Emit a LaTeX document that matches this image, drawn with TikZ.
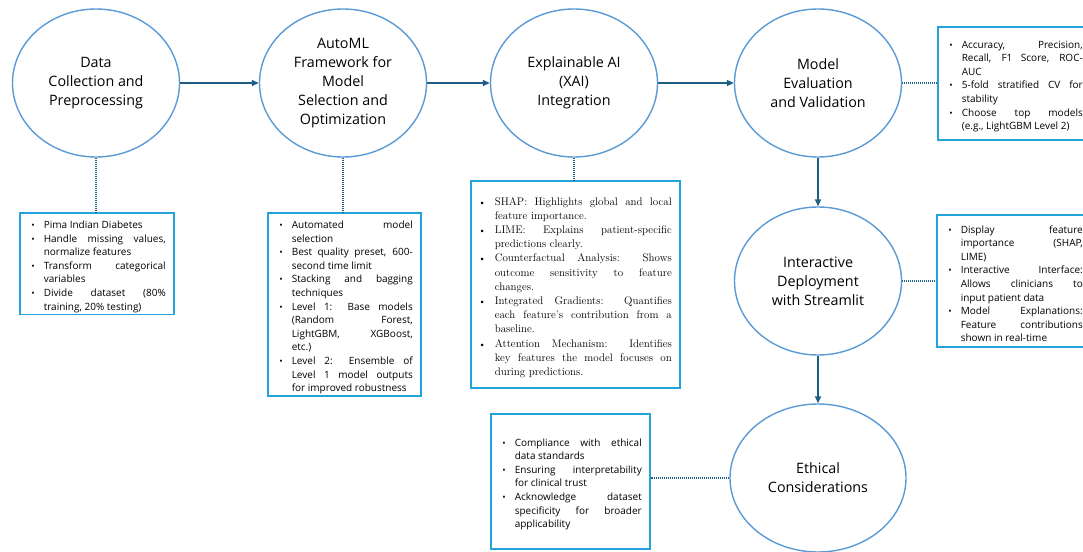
\documentclass[tikz,border=0pt]{standalone}
\usepackage{fontspec}
\setsansfont{Open Sans}
\usepackage{enumitem}
\usetikzlibrary{shapes.geometric,arrows.meta}
\definecolor{ringblue}{HTML}{5B9BD5}
\definecolor{boxblue}{HTML}{22A3DA}
\definecolor{flowblue}{HTML}{1F5F86}
\setlist[itemize]{label={\small\textbullet},leftmargin=16pt,labelsep=9pt,itemsep=0pt,topsep=0pt,parsep=0pt,partopsep=0pt}
\hyphenpenalty=10000
\hfuzz=4pt
\tikzset{
  ring/.style={ellipse, draw=ringblue, line width=1.4pt, minimum width=167pt,
    minimum height=148pt, inner sep=0pt, align=center,
    font=\sffamily\fontsize{14.3}{19}\selectfont},
  note/.style={draw=boxblue, line width=1.6pt, inner xsep=8pt, inner ysep=2pt,
    anchor=north west, align=justify, font=\sffamily\fontsize{10}{13.6}\selectfont},
  flow/.style={draw=flowblue, line width=2pt, -{Triangle[length=7pt,width=6pt]}},
  link/.style={draw=flowblue, line width=1.1pt, dash pattern=on 1pt off 1pt}
}
\begin{document}
\begin{tikzpicture}[x=1pt, y=-1pt]
\fill[white] (0,0) rectangle (1083,551);
\useasboundingbox (0,0) rectangle (1083,551);
% stages
\foreach \n/\x/\y/\t in {c1/96/83/{Data\\Collection and\\Preprocessing},
  c2/343/83/{AutoML\\Framework for\\Model\\Selection and\\Optimization},
  c3/574/83/{Explainable AI\\(XAI)\\Integration},
  c4/818/83/{Model\\Evaluation\\and Validation},
  c5/818/281/{Interactive\\Deployment\\with Streamlit}}
  \node[ring] (\n) at (\x,\y) {\t};
\node[ring, minimum width=176pt] (c6) at (818,478) {Ethical\\Considerations};
% details
\node[note, text width=138pt, minimum height=100pt] (b1) at (19,212) {%
\begin{itemize}
\item Pima Indian Diabetes
\item Handle missing values, \linebreak normalize features
\item Transform categorical \linebreak variables
\item Divide dataset (80\% \linebreak training, 20\% testing)
\end{itemize}};
\node[note, text width=137pt, minimum height=180pt] (b2) at (267,212) {%
\begin{itemize}
\item Automated model \linebreak selection
\item Best quality preset, 600-\linebreak second time limit
\item Stacking and bagging \linebreak techniques
\item Level 1: Base models \linebreak (Random Forest, \linebreak LightGBM, XGBoost, \linebreak etc.)
\item Level 2: Ensemble of \linebreak Level 1 model outputs \linebreak for improved robustness
\end{itemize}};
\node[note, text width=193pt, minimum height=207pt,
  font=\rmfamily\fontsize{11}{14.2}\selectfont] (b3) at (470,180) {%
\begin{itemize}
\item SHAP: Highlights global and local \linebreak feature importance.
\item LIME: Explains patient-specific \linebreak predictions clearly.
\item Counterfactual Analysis: Shows \linebreak outcome sensitivity to feature \linebreak changes.
\item Integrated Gradients: Quantifies \linebreak each feature’s contribution from a \linebreak baseline.
\item Attention Mechanism: Identifies \linebreak key features the model focuses on \linebreak during predictions.
\end{itemize}};
\node[note, text width=137pt, minimum height=113pt] (b4) at (937,26) {%
\begin{itemize}
\item Accuracy, Precision, \linebreak Recall, F1 Score, ROC-\linebreak AUC
\item 5-fold stratified CV for \linebreak stability
\item Choose top models \linebreak (e.g., LightGBM Level 2)
\end{itemize}};
\node[note, text width=138pt, minimum height=132pt] (b5) at (936,214) {%
\begin{itemize}
\item Display feature \linebreak importance (SHAP, \linebreak LIME)
\item Interactive Interface: \linebreak Allows clinicians to \linebreak input patient data
\item Model Explanations: \linebreak Feature contributions \linebreak shown in real-time
\end{itemize}};
\node[note, text width=143pt, minimum height=135pt] (b6) at (490,413) {%
\begin{itemize}
\item Compliance with ethical \linebreak data standards
\item Ensuring interpretability \linebreak for clinical trust
\item Acknowledge dataset \linebreak specificity for broader \linebreak applicability
\end{itemize}};
% arrows
\foreach \a/\b in {c1/c2,c2/c3,c3/c4,c4/c5,c5/c6}
  \draw[flow] (\a) -- (\b);
\foreach \a/\b in {c1/b1,c2/b2,c3/b3}
  \draw[link] (\a) -- (\a |- \b.north);
\draw[link] (c4) -- (c4 -| b4.west);
\draw[link] (c5) -- (c5 -| b5.west);
\draw[link] (c6) -- (c6 -| b6.east);
\end{tikzpicture}
\end{document}
